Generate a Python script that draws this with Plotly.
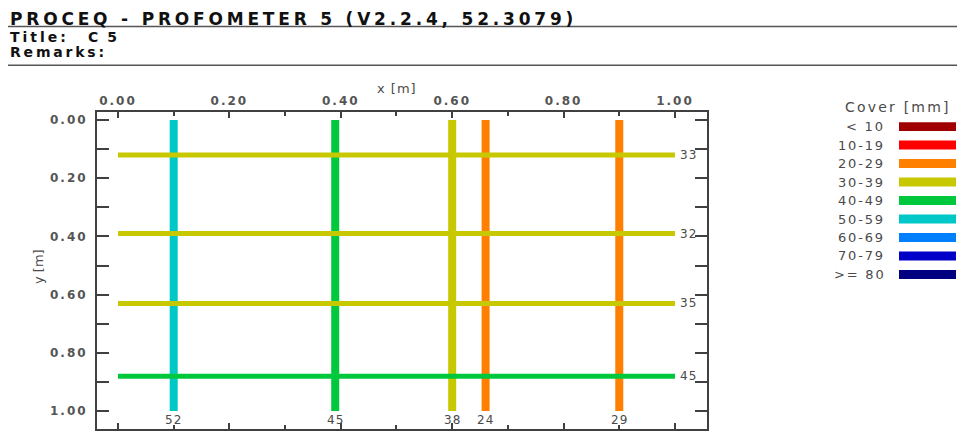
import plotly.graph_objects as go

# ---- data ----
cover_bins = ["< 10", "10-19", "20-29", "30-39", "40-49", "50-59", "60-69", "70-79", ">= 80"]
bin_colors = ["#A00000", "#FF0000", "#FF7F00", "#C8C800", "#00C83C", "#00C8C8", "#0080FF", "#0000C8", "#000080"]

vert_x = [0.10, 0.39, 0.60, 0.66, 0.90]       # x positions of vertical bars [m]
vert_cover = [52, 45, 38, 24, 29]             # cover [mm]
horiz_y = [0.12, 0.39, 0.63, 0.88]            # y positions of horizontal bars [m]
horiz_cover = [33, 32, 35, 45]                # cover [mm]
bar_start, bar_end = 0.0, 1.0

x_ticks = [0.0, 0.2, 0.4, 0.6, 0.8, 1.0]
y_ticks = [0.0, 0.2, 0.4, 0.6, 0.8, 1.0]

header = "PROCEQ - PROFOMETER 5 (V2.2.4, 52.3079)"
title_label, title_value = "Title:", "C 5"
remarks_label = "Remarks:"

# page body has an 8px margin; figure sized to fit the 965x431 window
OFF = 8
W, H = 965 - OFF, 431 - OFF
L, R, T, B = 97 - OFF, 258, 112 - OFF, 0
PW, PH = W - L - R, H - T - B

def px(xs):
    return (xs - OFF - L) / PW

def py(ys):
    return (H - B - (ys - OFF)) / PH

def color_for(v):
    return bin_colors[min(int(v // 10), len(bin_colors) - 1)]

def spaced(s, ls):
    return f'<span style="letter-spacing:{ls}px">{s}</span>'

FONT = "DejaVu Sans, Verdana, sans-serif"
GRAY = "#4a4a4a"

fig = go.Figure()

for x, c in zip(vert_x, vert_cover):
    fig.add_trace(go.Scatter(x=[x, x], y=[bar_start, bar_end], mode="lines",
                             line=dict(color=color_for(c), width=8), hoverinfo="skip"))
for y, c in zip(horiz_y, horiz_cover):
    fig.add_trace(go.Scatter(x=[bar_start, bar_end], y=[y, y], mode="lines",
                             line=dict(color=color_for(c), width=5), hoverinfo="skip"))

ann = []
for x, c in zip(vert_x, vert_cover):
    ann.append(dict(x=x, y=bar_end, xref="x", yref="y", text=spaced(c, 1), showarrow=False,
                    xanchor="center", yanchor="middle", yshift=-9,
                    font=dict(family=FONT, size=12, color=GRAY)))
for y, c in zip(horiz_y, horiz_cover):
    ann.append(dict(x=bar_end, y=y, xref="x", yref="y", text=spaced(c, 1), showarrow=False,
                    xanchor="left", yanchor="middle", xshift=3,
                    font=dict(family=FONT, size=12, color=GRAY)))

# header texts
ann.append(dict(x=px(8), y=py(18), xref="paper", yref="paper", text=spaced(header, 3.8), showarrow=False,
                xanchor="left", yanchor="middle",
                font=dict(family=FONT, size=17, color="#111111", weight="bold")))
ann.append(dict(x=px(8), y=py(37), xref="paper", yref="paper", text=spaced(title_label, 3), showarrow=False,
                xanchor="left", yanchor="middle",
                font=dict(family=FONT, size=14, color="#111111", weight="bold")))
ann.append(dict(x=px(86), y=py(37), xref="paper", yref="paper", text=spaced(title_value, 2), showarrow=False,
                xanchor="left", yanchor="middle",
                font=dict(family=FONT, size=14, color="#111111", weight="bold")))
ann.append(dict(x=px(8), y=py(52), xref="paper", yref="paper", text=spaced(remarks_label, 2.8), showarrow=False,
                xanchor="left", yanchor="middle",
                font=dict(family=FONT, size=14, color="#111111", weight="bold")))

# axis titles
ann.append(dict(x=px(397), y=py(88), xref="paper", yref="paper", text=spaced("x [m]", 1), showarrow=False,
                xanchor="center", yanchor="middle", font=dict(family=FONT, size=13, color=GRAY)))
ann.append(dict(x=px(38), y=py(268), xref="paper", yref="paper", text="y [m]", showarrow=False,
                textangle=-90, xanchor="center", yanchor="middle",
                font=dict(family=FONT, size=13, color=GRAY)))

# legend
ann.append(dict(x=px(898), y=py(107), xref="paper", yref="paper", text=spaced("Cover [mm]", 2.2), showarrow=False,
                xanchor="center", yanchor="middle", font=dict(family=FONT, size=14, color=GRAY)))
shapes = []
for i, (lab, col) in enumerate(zip(cover_bins, bin_colors)):
    yc = 126.7 + i * 18.6
    ann.append(dict(x=px(887), y=py(yc), xref="paper", yref="paper", text=spaced(lab, 1.8), showarrow=False,
                    xanchor="right", yanchor="middle", font=dict(family=FONT, size=13, color=GRAY)))
    shapes.append(dict(type="rect", xref="paper", yref="paper",
                       x0=px(899), x1=px(956), y0=py(yc - 4.5), y1=py(yc + 4.5),
                       fillcolor=col, line=dict(width=0)))

# header rules
for yl in (26, 65):
    shapes.append(dict(type="line", xref="paper", yref="paper", x0=px(OFF), x1=px(965), y0=py(yl), y1=py(yl),
                       line=dict(color="#555555", width=1.5)))

fig.update_layout(
    width=W, height=H,
    margin=dict(l=L, r=R, t=T, b=B, pad=0),
    paper_bgcolor="white", plot_bgcolor="white",
    showlegend=False,
    annotations=ann, shapes=shapes,
    xaxis=dict(range=[-0.0377, 1.0575], side="top", tickvals=x_ticks,
               ticktext=[spaced(f"{v:.2f}", 2) for v in x_ticks],
               ticks="inside", ticklen=6, tickwidth=1.5, tickcolor="#404040",
               minor=dict(dtick=0.1, tick0=0, ticks="inside", ticklen=4, tickcolor="#404040", tickwidth=1.5),
               showline=True, linecolor="#404040", linewidth=2, mirror="ticks",
               showgrid=False, zeroline=False,
               tickfont=dict(family=FONT, size=12, color="#555555", weight="bold")),
    yaxis=dict(range=[1.0614, -0.0273], tickvals=y_ticks,
               ticktext=[spaced(f"{v:.2f}", 2) for v in y_ticks],
               ticks="inside", ticklen=12, tickwidth=1.5, tickcolor="#404040",
               minor=dict(dtick=0.1, tick0=0, ticks="inside", ticklen=12, tickcolor="#404040", tickwidth=1.5),
               showline=True, linecolor="#404040", linewidth=2, mirror="ticks",
               showgrid=False, zeroline=False, ticklabelstandoff=5,
               tickfont=dict(family=FONT, size=12, color="#555555", weight="bold")),
)

fig.write_html("out.html")
